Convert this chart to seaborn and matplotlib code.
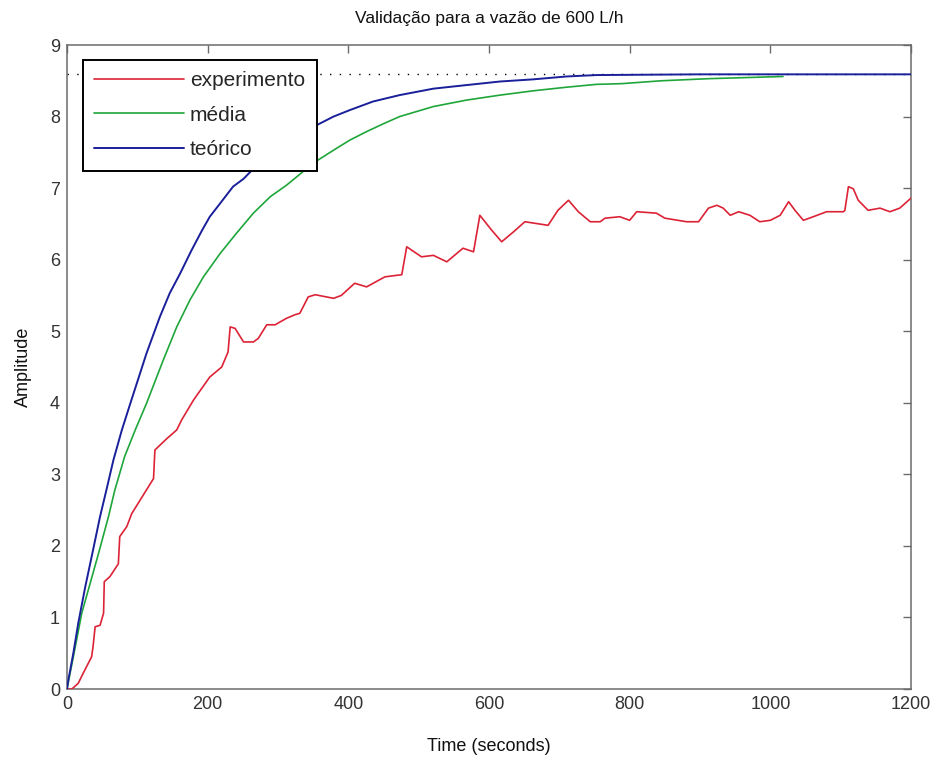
import matplotlib
matplotlib.use("Agg")
import matplotlib.pyplot as plt
import seaborn as sns
import pandas as pd

# ---- data ----
exp_t = [0, 7, 16, 23, 35, 37, 40, 47, 52, 53, 61, 73, 75, 85, 92, 104, 116, 123, 125, 142,
         156, 163, 180, 203, 220, 229, 232, 239, 251, 265, 272, 284, 296, 303, 312, 324, 331,
         343, 353, 379, 390, 409, 426, 452, 476, 483, 504, 521, 540, 563, 578, 587, 604, 618,
         635, 651, 684, 698, 713, 727, 744, 758, 765, 786, 800, 810, 838, 850, 881, 898, 912,
         924, 933, 943, 955, 971, 985, 1000, 1014, 1026, 1035, 1047, 1061, 1080, 1104, 1106,
         1111, 1118, 1125, 1139, 1156, 1170, 1184, 1200]
exp_y = [0, 0, 0.08, 0.22, 0.45, 0.59, 0.87, 0.89, 1.06, 1.5, 1.57, 1.75, 2.13, 2.27, 2.45,
         2.64, 2.83, 2.94, 3.34, 3.5, 3.62, 3.76, 4.04, 4.36, 4.5, 4.71, 5.06, 5.04, 4.85, 4.85,
         4.9, 5.09, 5.09, 5.13, 5.18, 5.23, 5.25, 5.48, 5.51, 5.46, 5.5, 5.67, 5.62, 5.76, 5.79,
         6.18, 6.04, 6.06, 5.97, 6.16, 6.11, 6.62, 6.41, 6.25, 6.39, 6.53, 6.48, 6.69, 6.83,
         6.67, 6.53, 6.53, 6.58, 6.60, 6.55, 6.67, 6.65, 6.58, 6.53, 6.53, 6.72, 6.76, 6.72,
         6.62, 6.67, 6.62, 6.53, 6.55, 6.62, 6.81, 6.69, 6.55, 6.60, 6.67, 6.67, 6.69, 7.02,
         6.99, 6.83, 6.69, 6.72, 6.67, 6.72, 6.86]

med_t = [0, 11, 21, 33, 45, 59, 68, 82, 97, 113, 137, 156, 175, 194, 218, 241, 265, 289, 312,
         338, 355, 379, 402, 426, 450, 473, 521, 568, 616, 663, 710, 753, 789, 845, 914, 1018]
med_y = [0, 0.55, 1.06, 1.48, 1.9, 2.41, 2.78, 3.25, 3.62, 3.99, 4.6, 5.06, 5.44, 5.76, 6.09,
         6.37, 6.65, 6.88, 7.04, 7.25, 7.38, 7.53, 7.67, 7.79, 7.9, 8.0, 8.14, 8.23, 8.3, 8.36,
         8.41, 8.45, 8.46, 8.5, 8.53, 8.56]

teo_t = [0, 2, 9, 16, 26, 37, 47, 56, 66, 78, 90, 113, 132, 146, 161, 177, 192, 203, 218, 236,
         251, 263, 355, 379, 402, 435, 473, 521, 568, 616, 663, 710, 753, 900, 1200]
teo_y = [0, 0.13, 0.5, 0.92, 1.43, 1.94, 2.41, 2.78, 3.2, 3.62, 3.99, 4.69, 5.2, 5.53, 5.81,
         6.13, 6.41, 6.6, 6.79, 7.02, 7.13, 7.25, 7.88, 8.0, 8.09, 8.21, 8.3, 8.39, 8.44, 8.49,
         8.52, 8.56, 8.58, 8.59, 8.59]

steady_value = 8.59
labels = ["experimento", "média", "teórico"]
title = "Validação para a vazão de 600 L/h"
x_ticks = [0, 200, 400, 600, 800, 1000, 1200]
y_ticks = [0, 1, 2, 3, 4, 5, 6, 7, 8, 9]

# ---- style ----
sns.set_style("white")
plt.rcParams["font.family"] = ["Liberation Sans", "DejaVu Sans"]

fig = plt.figure(figsize=(9.38, 7.59), dpi=100)
ax = fig.add_axes([67 / 938, 70 / 759, 844 / 938, 644 / 759])

ax.plot([0, 1200], [steady_value, steady_value], color="black", lw=1.0,
        linestyle=(0, (1, 6)), zorder=1)

df_exp = pd.DataFrame({"t": exp_t, "y": exp_y})
df_med = pd.DataFrame({"t": med_t, "y": med_y})
df_teo = pd.DataFrame({"t": teo_t, "y": teo_y})
sns.lineplot(data=df_exp, x="t", y="y", ax=ax, color="#dc2336", lw=1.2,
             estimator=None, sort=False, label=labels[0], zorder=3)
sns.lineplot(data=df_med, x="t", y="y", ax=ax, color="#1fa63a", lw=1.2,
             estimator=None, sort=False, label=labels[1], zorder=3)
sns.lineplot(data=df_teo, x="t", y="y", ax=ax, color="#1a1f9a", lw=1.4,
             estimator=None, sort=False, label=labels[2], zorder=3)

ax.set_xlim(0, 1200)
ax.set_ylim(0, 9)
ax.set_xticks(x_ticks)
ax.set_yticks(y_ticks)
ax.tick_params(direction="in", length=6, width=1, color="#6b6b6b", labelcolor="#333333",
               labelsize=13, top=True, right=True, pad=5)
for s in ax.spines.values():
    s.set_color("#6b6b6b")
    s.set_linewidth(1.1)
ax.set_xlabel("Time (seconds)", fontsize=13, color="#111111", labelpad=18)
ax.set_ylabel("Amplitude", fontsize=13, color="#111111", labelpad=13)
ax.set_title(title, fontsize=12.5, color="#111111", pad=16)

leg = ax.legend(loc="upper left", bbox_to_anchor=(0.0186, 0.977), borderaxespad=0,
                fontsize=15, frameon=True, fancybox=False, handlelength=4.3,
                handletextpad=0.3, labelspacing=0.74, borderpad=0.55)
leg.get_frame().set_edgecolor("black")
leg.get_frame().set_linewidth(1.4)
leg.get_frame().set_alpha(1)
leg.set_zorder(5)

fig.savefig("out.png", dpi=100)
